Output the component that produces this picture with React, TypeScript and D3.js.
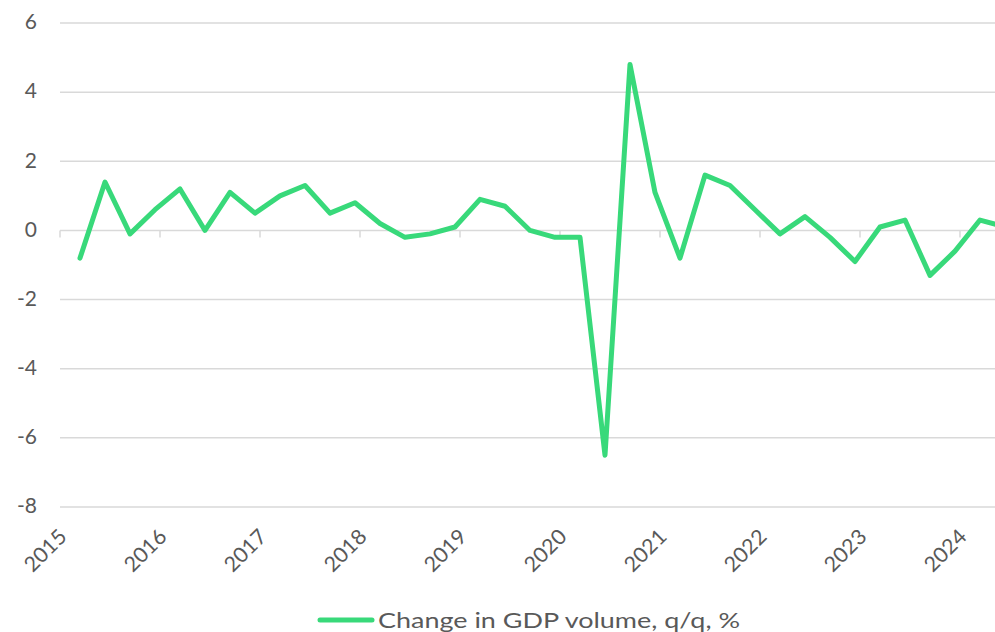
import React from "react";
import * as d3 from "d3";

const quarters = [
  "2015Q1","2015Q2","2015Q3","2015Q4",
  "2016Q1","2016Q2","2016Q3","2016Q4",
  "2017Q1","2017Q2","2017Q3","2017Q4",
  "2018Q1","2018Q2","2018Q3","2018Q4",
  "2019Q1","2019Q2","2019Q3","2019Q4",
  "2020Q1","2020Q2","2020Q3","2020Q4",
  "2021Q1","2021Q2","2021Q3","2021Q4",
  "2022Q1","2022Q2","2022Q3","2022Q4",
  "2023Q1","2023Q2","2023Q3","2023Q4",
  "2024Q1","2024Q2",
];
const gdpChange = [
  -0.8, 1.4, -0.1, 0.6,
  1.2, 0.0, 1.1, 0.5,
  1.0, 1.3, 0.5, 0.8,
  0.2, -0.2, -0.1, 0.1,
  0.9, 0.7, 0.0, -0.2,
  -0.2, -6.5, 4.8, 1.1,
  -0.8, 1.6, 1.3, 0.6,
  -0.1, 0.4, -0.2, -0.9,
  0.1, 0.3, -1.3, -0.6,
  0.3, 0.1,
];
const yearLabels = ["2015","2016","2017","2018","2019","2020","2021","2022","2023","2024"];
const yTicks = [6, 4, 2, 0, -2, -4, -6, -8];
const legendLabel = "Change in GDP volume, q/q, %";

const W = 995;
const H = 632;
const FONT = "'Lato', 'Open Sans', sans-serif";
const TEXT = "#595959";
const GRID = "#d9d9d9";
const LINE = "#38d97a";

export default function App() {
  // x: quarter index; year boundary ticks sit 0.8 quarter before each Q1
  const x = d3.scaleLinear().domain([-0.8, 37.6]).range([60, 1020]);
  const y = d3.scaleLinear().domain([-8, 6]).range([507, 23]);
  const line = d3
    .line<number>()
    .x((_, i) => x(i))
    .y((d) => y(d));

  return (
    <svg
      width={W}
      height={H}
      style={{ position: "fixed", left: 0, top: 0, background: "#fff" }}
      fontFamily={FONT}
    >
      <rect width={W} height={H} fill="#fff" />
      {yTicks.map((t) => (
        <g key={t}>
          <line x1={60} x2={W} y1={y(t)} y2={y(t)} stroke={GRID} strokeWidth={1.5} />
          <text
            x={37}
            y={y(t) + 1}
            textAnchor="end"
            dominantBaseline="middle"
            fontSize={21}
            fill={TEXT}
          >
            {t}
          </text>
        </g>
      ))}
      {yearLabels.map((lab, k) => {
        const tx = x(k * 4 - 0.8);
        return (
          <g key={lab}>
            <line x1={tx} x2={tx} y1={y(0)} y2={y(0) + 7} stroke={GRID} strokeWidth={1.5} />
            <text
              transform={`translate(${tx + 8},538) rotate(-45)`}
              textAnchor="end"
              fontSize={21}
              fill={TEXT}
              textLength={50}
              lengthAdjust="spacingAndGlyphs"
            >
              {lab}
            </text>
          </g>
        );
      })}
      <path
        d={line(gdpChange) || ""}
        fill="none"
        stroke={LINE}
        strokeWidth={5}
        strokeLinejoin="round"
        strokeLinecap="round"
      />
      <line x1={320} x2={372} y1={620} y2={620} stroke={LINE} strokeWidth={5} strokeLinecap="round" />
      <text x={378} y={628} fontSize={21} fill={TEXT} textLength={362} lengthAdjust="spacingAndGlyphs">
        {legendLabel}
      </text>
    </svg>
  );
}
